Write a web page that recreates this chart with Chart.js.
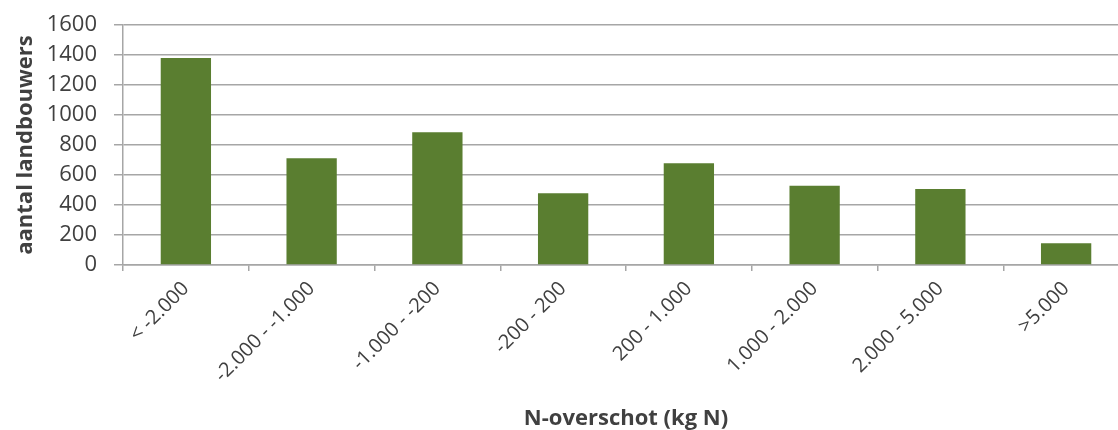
<!DOCTYPE html>
<html lang="nl">
<head>
    <meta charset="UTF-8">
    <title>N-overschot per landbouwer</title>
    <script src="https://cdn.jsdelivr.net/npm/chart.js"></script>
    <style>
        html, body {
            margin: 0;
            padding: 0;
            background: #fff;
            overflow: hidden;
        }
        /* plot area runs a bit past the right edge, like the original crop */
        .chart-box {
            position: relative;
            width: 1129px;
            height: 430px;
        }
    </style>
</head>
<body>
    <div class="chart-box">
        <canvas id="barChart"></canvas>
    </div>

    <script>
        // data
        const categories = ['< -2.000', '-2.000 - -1.000', '-1.000 - -200', '-200 - 200',
                            '200 - 1.000', '1.000 - 2.000', '2.000 - 5.000', '>5.000'];
        const farmers = [1380, 712, 885, 478, 678, 529, 507, 145];
        const yTicks = [0, 200, 400, 600, 800, 1000, 1200, 1400, 1600];

        const textColor = '#404040';
        const gridColor = '#a6a6a6';
        const fontFamily = "'Open Sans', sans-serif";

        const ctx = document.getElementById('barChart').getContext('2d');
        new Chart(ctx, {
            type: 'bar',
            data: {
                labels: categories,
                datasets: [{
                    label: 'aantal landbouwers',
                    data: farmers,
                    backgroundColor: '#5a7e30',
                    borderWidth: 0,
                    categoryPercentage: 1.0,
                    barPercentage: 0.4
                }]
            },
            options: {
                responsive: true,
                maintainAspectRatio: false,
                animation: false,
                layout: { padding: { top: 25, right: 0, bottom: 0, left: 0 } },
                plugins: {
                    legend: { display: false },
                    tooltip: { enabled: false }
                },
                scales: {
                    x: {
                        grid: {
                            offset: true,
                            drawOnChartArea: false,
                            drawTicks: true,
                            tickLength: 6,
                            color: gridColor,
                            lineWidth: 1.5
                        },
                        border: { color: gridColor, width: 1.5 },
                        ticks: {
                            autoSkip: false,
                            minRotation: 45,
                            maxRotation: 45,
                            padding: 6,
                            color: textColor,
                            font: { family: fontFamily, size: 20 }
                        },
                        title: {
                            display: true,
                            text: 'N-overschot (kg N)',
                            color: textColor,
                            padding: 0,
                            font: { family: fontFamily, size: 22, weight: 'bold', lineHeight: 1 }
                        },
                        afterFit: (scale) => { scale.height = 430 - 265; }
                    },
                    y: {
                        min: 0,
                        max: 1600,
                        afterBuildTicks: (scale) => {
                            scale.ticks = yTicks.map(v => ({ value: v }));
                        },
                        grid: {
                            color: gridColor,
                            lineWidth: 1.5,
                            tickLength: 9
                        },
                        border: { color: gridColor, width: 1.5 },
                        ticks: {
                            padding: 17,
                            color: textColor,
                            font: { family: fontFamily, size: 22 },
                            callback: (value) => String(value)
                        },
                        title: {
                            display: true,
                            text: 'aantal landbouwers',
                            color: textColor,
                            padding: { top: 15, bottom: 0 },
                            font: { family: fontFamily, size: 22, weight: 'bold', lineHeight: 1 }
                        },
                        afterFit: (scale) => {
                            scale.width = 123;
                            // tick padding should not push the plot down
                            scale.paddingTop = 0;
                            scale.paddingBottom = 0;
                        }
                    }
                }
            }
        });
    </script>
</body>
</html>
